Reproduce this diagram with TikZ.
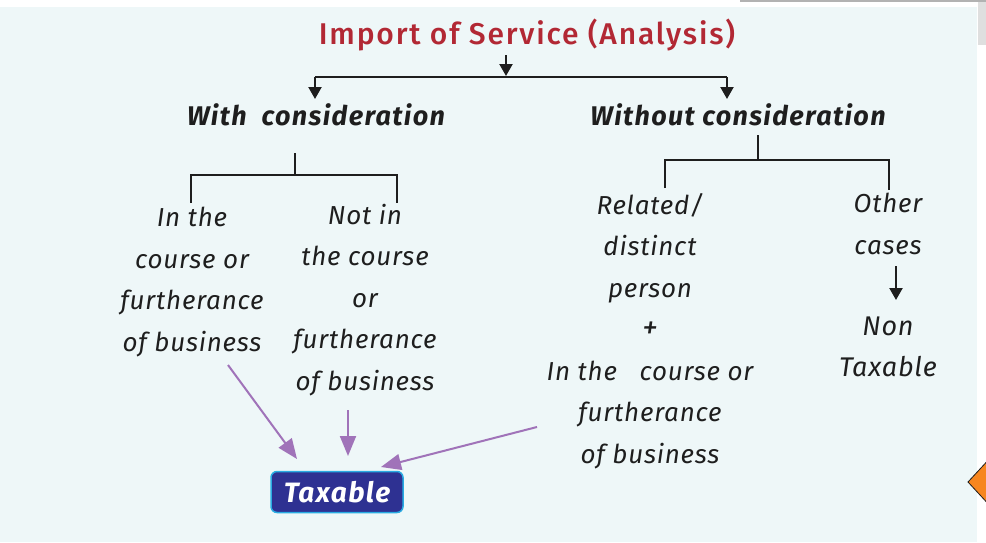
\documentclass[tikz,border=0pt]{standalone}
\usepackage{fontspec}
\setmainfont{Fira Sans}
\newfontfamily\titlefont[LetterSpace=6]{Fira Sans Medium}
\newfontfamily\headfont[LetterSpace=5]{Fira Sans}
\newfontfamily\bodyfont[LetterSpace=3]{Fira Sans}
\usetikzlibrary{arrows.meta}
\definecolor{bg}{RGB}{238,247,248}
\definecolor{titlered}{RGB}{178,40,52}
\definecolor{purp}{RGB}{160,115,185}
\definecolor{navy}{RGB}{46,49,146}
\definecolor{cyanb}{RGB}{41,171,226}
\definecolor{orng}{RGB}{247,134,31}
\definecolor{ink}{RGB}{30,30,30}
\begin{document}
\begin{tikzpicture}[x=1pt,y=-1pt,
 txt/.style={font=\bodyfont\fontsize{26}{41.5}\selectfont\itshape, text=ink, align=center, inner sep=0pt},
 head/.style={font=\headfont\fontsize{27}{30}\selectfont\bfseries\itshape, text=ink, inner sep=0pt},
 tree/.style={draw=ink, line width=2.2pt},
 blkarrow/.style={tree, -{Triangle[width=13pt,length=12pt]}},
 parrow/.style={draw=purp, line width=2pt, -{Triangle[width=16pt,length=20pt]}}]
\useasboundingbox (0,0) rectangle (986,542);
\fill[white] (0,0) rectangle (986,542);
\fill[bg] (0,7) rectangle (977,542);
\fill[gray!25] (978,0) rectangle (986,45);
\draw[gray!60, line width=1.5pt] (740,0.75) -- (986,0.75);
\fill[orng, draw=ink, line width=0.8pt] (968,482) -- (992,456) -- (992,508) -- cycle;

\node[font=\titlefont\fontsize{30}{34}\selectfont, text=titlered, inner sep=0pt] (title) at (527,35) {Import of Service (Analysis)};
\node[head] (wc) at (316,115) {With\ \ consideration};
\node[head] (woc) at (738,115) {Without consideration};

\node[txt] (c1) at (192,282) {In the\\course or\\furtherance\\of business};
\node[txt] (c2) at (365,300) {Not in\\the course\\or\\furtherance\\of business};
\node[txt] (c3) at (650,331) {Related/\\distinct\\person\\{\fontsize{32}{41.5}\selectfont +}\\In the\ \ \ course or\\furtherance\\of business};
\node[txt] (c4) at (888,224) {Other\\cases};
\node[txt, font=\bodyfont\fontsize{27}{41.5}\selectfont\itshape] (nt) at (888,347) {Non\\Taxable};

\node[draw=cyanb, line width=1.5pt, fill=navy, rounded corners=6pt, minimum width=132pt, minimum height=41pt, text=white, font=\headfont\fontsize{28}{30}\selectfont\bfseries\itshape, inner sep=0pt] (tax) at (337,492) {Taxable};

% top tree
\coordinate (j1) at (506,77);
\coordinate (jl) at (315,77);
\coordinate (jr) at (727,77);
\draw[blkarrow] (j1 |- title.south) ++(0,4) -- (506,76);
\draw[tree] (jl) -- (jr);
\draw[blkarrow] (jl) -- (315,99);
\draw[blkarrow] (jr) -- (727,99);

% left subtree
\coordinate (lt) at (295,153);
\coordinate (lj) at (295,175);
\draw[tree] (lt) -- (lj);
\draw[tree] (191,203) -- (191,175) -- (397,175) -- (397,203);

% right subtree
\coordinate (rt) at (758,135);
\coordinate (rj) at (758,160);
\draw[tree] (rt) -- (rj);
\draw[tree] (665,188) -- (665,160) -- (889,160) -- (889,190);

% other cases -> non taxable
\coordinate (oa) at (896,266);
\coordinate (ob) at (896,300);
\draw[blkarrow] (oa) -- (ob);

% purple arrows
\coordinate (p1s) at (228,365);
\coordinate (p1e) at (297,459);
\coordinate (p2s) at (348,410);
\coordinate (p2e) at (348,456);
\coordinate (p3s) at (537,427);
\coordinate (p3e) at (381,467);
\draw[parrow] (p1s) -- (p1e);
\draw[parrow] (p2s) -- (p2e);
\draw[parrow] (p3s) -- (p3e);
\end{tikzpicture}
\end{document}
